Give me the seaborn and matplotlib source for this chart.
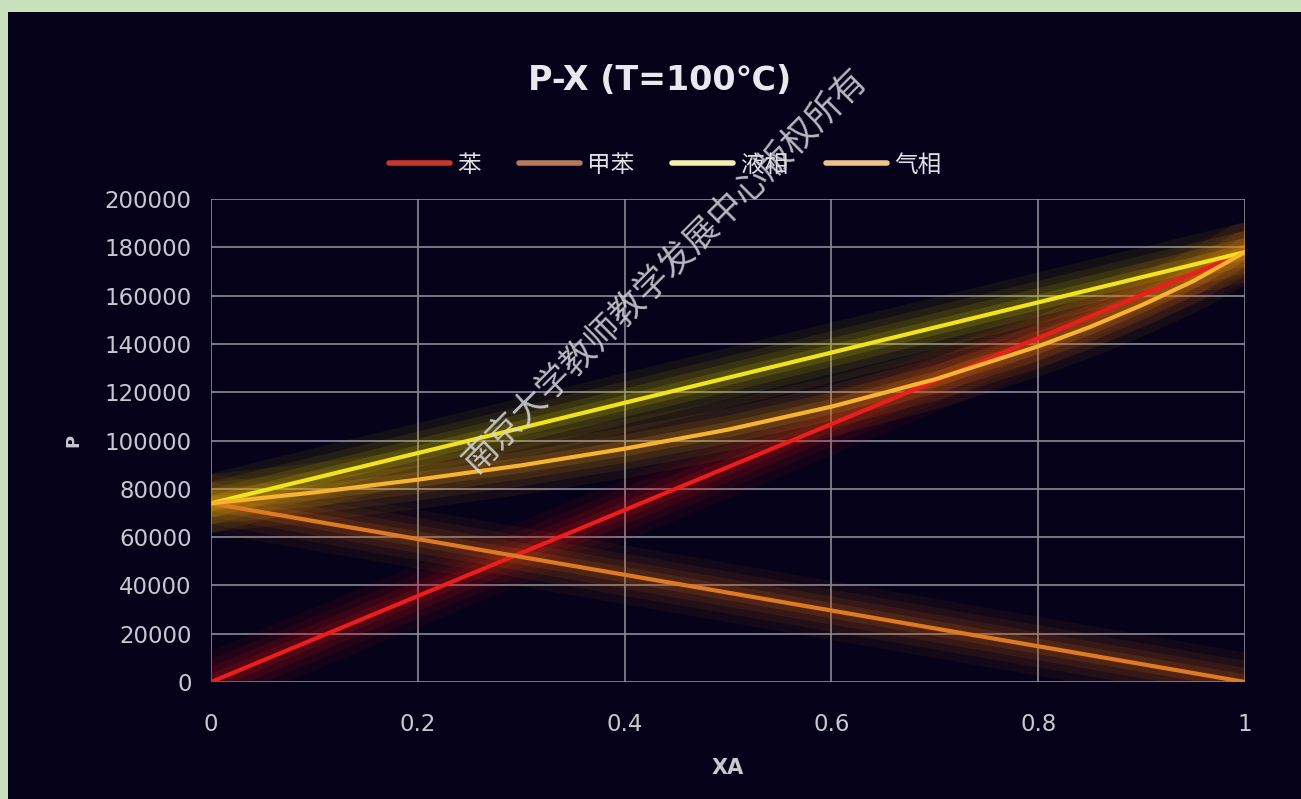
import numpy as np
import pandas as pd
import matplotlib
matplotlib.use("Agg")
import matplotlib.pyplot as plt
from matplotlib.patches import Rectangle
from matplotlib.lines import Line2D
import seaborn as sns

# ---- data ----
x_ends = [0.0, 1.0]
benzene = [0, 178000]
toluene = [74000, 0]
liquid = [74000, 178000]
vap_x = [0.0, 0.1, 0.2, 0.3, 0.4, 0.5, 0.6, 0.7, 0.8, 0.85, 0.9, 0.95, 1.0]
vapor = [74000, 78500, 83800, 89700, 96600, 104500, 114000, 125300, 139000,
         147000, 156000, 166000, 178000]

names = ["苯", "甲苯", "液相", "气相"]
colors = ["#ee1c1c", "#e07a22", "#f2e41c", "#f7b431"]
glow = ["#d01010", "#c86010", "#d8c800", "#e89a10"]
legend_colors = ["#c8352a", "#b87a5a", "#f4f0b0", "#f0c488"]

sns.set_theme(style="dark")
plt.rcParams['font.family'] = ['DejaVu Sans', 'Noto Sans CJK SC']

fig = plt.figure(figsize=(13.01, 7.99), dpi=100)
fig.patch.set_facecolor("#c9e2bb")
bg = Rectangle((8 / 1301, 0), 1 - 8 / 1301, 1 - 12 / 799,
               transform=fig.transFigure, facecolor="#050219",
               edgecolor="none", zorder=-10)
fig.patches.append(bg)

ax = fig.add_axes([211 / 1301, 1 - 682 / 799, (1245 - 211) / 1301, (682 - 199) / 799])
ax.set_zorder(1)
ax.set_facecolor("#050219")

series = [
    (x_ends, benzene),
    (x_ends, toluene),
    (x_ends, liquid),
    (vap_x, vapor),
]
for (xs, ys), c, g, n in zip(series, colors, glow, names):
    df = pd.DataFrame({"XA": xs, "P": ys})
    for lw, a in [(42, 0.07), (30, 0.09), (20, 0.12), (11, 0.17)]:
        sns.lineplot(data=df, x="XA", y="P", ax=ax, color=g, linewidth=lw,
                     alpha=a, solid_capstyle="round", zorder=2, legend=False)
    sns.lineplot(data=df, x="XA", y="P", ax=ax, color=c, linewidth=3,
                 zorder=3, legend=False)

ax.set_xlim(0, 1)
ax.set_ylim(0, 200000)
ax.set_xticks([0, 0.2, 0.4, 0.6, 0.8, 1])
ax.set_xticklabels(["0", "0.2", "0.4", "0.6", "0.8", "1"])
ax.set_yticks(np.arange(0, 200001, 20000))
ax.set_yticklabels([str(v) for v in range(0, 200001, 20000)])
ax.grid(True, color="#8a8a98", linewidth=1.2, zorder=1)
ax.set_axisbelow(True)
for s in ax.spines.values():
    s.set_visible(False)
ax.tick_params(axis="both", colors="#c8c8d0", labelsize=16.5, length=0)
ax.tick_params(axis="x", pad=22)
ax.tick_params(axis="y", pad=14)
ax.set_xlabel("XA", color="#c8c8d0", fontsize=15, fontweight="bold", labelpad=16)
ax.set_ylabel("P", color="#c8c8d0", fontsize=13, fontweight="bold", labelpad=16)

fig.text(660 / 1301, 1 - 80 / 799, "P-X (T=100℃)", ha="center", va="center",
         color="#e8e8ee", fontsize=24, fontweight="bold")

handles = [Line2D([0], [0], color=c, linewidth=4) for c in legend_colors]
leg = fig.legend(handles, names, loc="center", bbox_to_anchor=(665 / 1301, 1 - 165 / 799),
                 ncol=4, frameon=False, fontsize=17, handlelength=2.6,
                 columnspacing=1.6, handletextpad=0.3)
for t in leg.get_texts():
    t.set_color("#e0e0e6")
    t.set_family(['Noto Sans CJK SC', 'DejaVu Sans'])

fig.text(665 / 1301, 1 - 270 / 799, "南京大学教师教学发展中心版权所有", ha="center", va="center",
         rotation=45, color="#d8d8e0", alpha=0.85, fontsize=25,
         family=['Noto Sans CJK SC', 'DejaVu Sans'], zorder=10)

fig.savefig("out.png", dpi=100, facecolor=fig.get_facecolor())
